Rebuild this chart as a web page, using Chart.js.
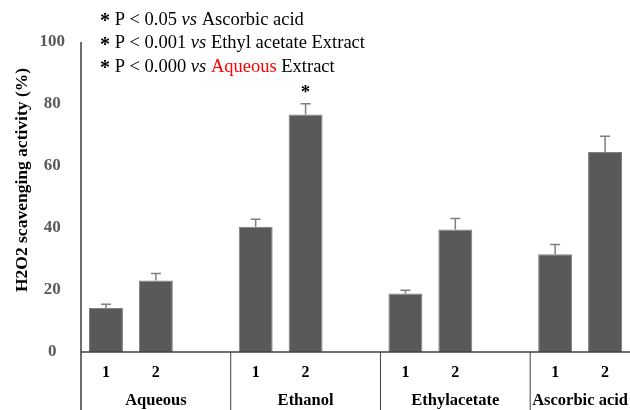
<!DOCTYPE html>
<html>
<head>
<meta charset="utf-8">
<script src="https://cdn.jsdelivr.net/npm/chart.js@4"></script>
<style>
  body { margin: 0; background: #fff; }
  #wrap { width: 630px; height: 410px; position: relative; }
</style>
</head>
<body>
<div id="wrap"><canvas id="myChart"></canvas></div>
<script>
const groups = ['Aqueous', 'Ethanol', 'Ethylacetate', 'Ascorbic acid'];
const subLabels = ['1', '2'];
const values1 = [14.2, 40.4, 18.9, 31.5];
const values2 = [23.1, 76.6, 39.5, 64.5];
const errors1 = [1.2, 2.4, 1.0, 3.2];
const errors2 = [2.2, 3.5, 3.6, 5.1];
const yTicks = [0, 20, 40, 60, 80, 100];
const yTitle = 'H2O2 scavenging activity (%)';
const starredBar = { group: 1, sub: 1 };

const serif = "'Liberation Serif', 'Times New Roman', serif";

// flatten into category slots with an empty slot between groups
const labels = [], data = [], errs = [];
groups.forEach((g, i) => {
  labels.push(subLabels[0], subLabels[1]);
  data.push(values1[i], values2[i]);
  errs.push(errors1[i], errors2[i]);
  if (i < groups.length - 1) { labels.push(''); data.push(null); errs.push(null); }
});

const extras = {
  id: 'extras',
  afterDatasetsDraw(chart) {
    const c = chart.ctx, x = chart.scales.x, y = chart.scales.y, a = chart.chartArea;
    const H = chart.height;
    const meta = chart.getDatasetMeta(0);
    c.save();
    // error bars
    c.strokeStyle = '#7f7f7f';
    c.lineWidth = 1.5;
    data.forEach((v, i) => {
      if (v == null) return;
      const px = meta.data[i].x;
      const top = y.getPixelForValue(v + errs[i]);
      const base = y.getPixelForValue(v);
      c.beginPath();
      c.moveTo(px, base); c.lineTo(px, top);
      c.moveTo(px - 5, top); c.lineTo(px + 5, top);
      c.stroke();
    });
    // axes
    const y0 = y.getPixelForValue(0);
    c.strokeStyle = '#404040';
    c.lineWidth = 1.5;
    c.beginPath();
    c.moveTo(a.left, y.getPixelForValue(100)); c.lineTo(a.left, H);
    c.moveTo(a.left, y0); c.lineTo(a.right, y0);
    c.stroke();
    // group separators and labels
    const step = x.getPixelForValue(1) - x.getPixelForValue(0);
    const bounds = [a.left];
    groups.forEach((g, i) => {
      if (i < groups.length - 1) bounds.push(x.getPixelForValue(i * 3 + 2) + step / 2);
    });
    bounds.push(a.right);
    c.lineWidth = 1;
    c.beginPath();
    for (let i = 1; i < bounds.length - 1; i++) {
      c.moveTo(bounds[i], y0); c.lineTo(bounds[i], H);
    }
    c.stroke();
    c.fillStyle = '#000';
    c.textAlign = 'center';
    c.textBaseline = 'middle';
    c.font = 'bold 16px ' + serif;
    labels.forEach((l, i) => {
      if (l) c.fillText(l, x.getPixelForValue(i), y0 + 21);
    });
    c.font = 'bold 16.5px ' + serif;
    groups.forEach((g, i) => {
      c.fillText(g, (bounds[i] + bounds[i + 1]) / 2, y0 + 49);
    });
    // y title
    c.save();
    c.translate(22, 180);
    c.rotate(-Math.PI / 2);
    c.font = 'bold 17.5px ' + serif;
    c.fillText(yTitle, 0, 0);
    c.restore();
    // significance star
    const si = starredBar.group * 3 + starredBar.sub;
    c.font = 'bold 19px ' + serif;
    c.fillText('*', meta.data[si].x, y.getPixelForValue(data[si] + errs[si]) - 11);
    // note block
    const F = '18.5px';
    const lines = [
      [['*', 'bold 20px', '#000'], [' P < 0.05 ', F, '#000'], ['vs', 'italic ' + F, '#000'], [' Ascorbic acid', F, '#000']],
      [['*', 'bold 20px', '#000'], [' P < 0.001 ', F, '#000'], ['vs', 'italic ' + F, '#000'], [' Ethyl acetate Extract', F, '#000']],
      [['*', 'bold 20px', '#000'], [' P < 0.000 ', F, '#000'], ['vs', 'italic ' + F, '#000'], [' ', F, '#000'], ['Aqueous', F, '#ff0000'], [' Extract', F, '#000']]
    ];
    c.textAlign = 'left';
    lines.forEach((parts, li) => {
      let px = 100;
      const py = 20 + li * 23.5;
      parts.forEach(([t, f, col]) => {
        c.font = f + ' ' + serif;
        c.fillStyle = col;
        c.fillText(t, px, t === '*' ? py + 2 : py);
        px += c.measureText(t).width;
      });
    });
    c.restore();
  }
};

Chart.defaults.font.family = serif;

new Chart(document.getElementById('myChart').getContext('2d'), {
  type: 'bar',
  data: {
    labels: labels,
    datasets: [{
      data: data,
      backgroundColor: '#595959',
      borderColor: '#808080',
      borderWidth: 1,
      categoryPercentage: 1,
      barPercentage: 0.68
    }]
  },
  options: {
    responsive: true,
    maintainAspectRatio: false,
    animation: false,
    layout: { padding: { top: 42, bottom: 58, left: 0, right: 0 } },
    scales: {
      x: { display: false },
      y: {
        min: 0, max: 100,
        afterBuildTicks: s => { s.ticks = yTicks.map(v => ({ value: v })); },
        afterFit: s => { s.width = 81; },
        grid: { display: false, drawTicks: false },
        border: { display: false },
        ticks: { color: '#595959', font: { size: 17, weight: 'bold' }, padding: 16, crossAlign: 'center' },
        title: { display: false }
      }
    },
    plugins: { legend: { display: false }, tooltip: { enabled: false } }
  },
  plugins: [extras]
});
</script>
</body>
</html>
